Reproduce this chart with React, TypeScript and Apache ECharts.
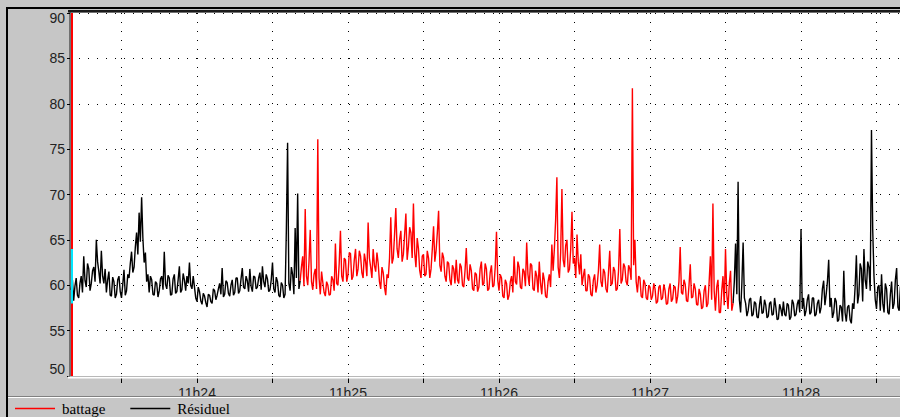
import React, { useEffect, useRef } from 'react';
import * as echarts from 'echarts';

// time in seconds since 11h00, one value every half second
const sampleStep = 0.5;

const residuelStart1 = 1390;
const residuel1 = [
  59.5, 60.6, 58.3, 59.9, 60.8, 58.9, 58.6, 60.2, 61.0, 59.2,
  63.2, 60.5, 59.8, 62.4, 61.8, 59.4, 60.2, 61.6, 62.0, 60.4,
  65.0, 62.6, 61.5, 60.2, 63.8, 61.0, 60.2, 61.8, 59.2, 60.6,
  61.5, 58.9, 58.8, 60.9, 60.4, 58.6, 59.0, 60.6, 61.0, 59.3,
  58.6, 60.1, 61.7, 58.9, 59.4, 61.2, 60.8, 62.4, 63.7, 61.4,
  62.0, 64.2, 65.8, 63.4, 68.0, 64.8, 69.7, 65.2, 62.5, 63.6,
  60.4, 61.2, 59.2, 61.0, 60.6, 59.0, 58.9, 60.4, 60.2, 58.7,
  59.4, 60.7, 61.0, 59.5, 63.7, 60.1, 59.6, 61.1, 60.8, 58.9,
  59.0, 60.7, 61.2, 59.1, 59.3, 60.6, 62.1, 59.2, 59.5, 61.3,
  60.6, 59.4, 61.0, 60.2, 62.5, 60.0, 59.6, 61.0, 59.8, 58.6,
  58.2, 59.8, 59.3, 58.3, 57.9, 59.1, 58.8, 58.1, 57.6, 59.0,
  58.9, 58.2, 58.0, 59.6, 59.4, 58.4, 58.9, 59.6, 60.2, 59.0,
  61.9, 58.7, 59.0, 60.5, 60.3, 59.1, 58.8, 60.0, 60.6, 58.9,
  59.2, 60.8, 60.8, 59.1, 59.4, 60.7, 61.9, 59.8, 59.6, 61.0,
  60.5, 59.3, 61.8, 59.9, 59.3, 61.0, 60.9, 59.6, 59.8, 60.8,
  61.4, 59.5, 62.1, 60.4, 59.8, 61.2, 60.7, 59.3, 59.5, 60.6,
  62.5, 59.6, 59.2, 60.9, 60.4, 58.9, 58.7, 60.3, 60.0, 58.6,
  59.0, 66.0, 75.7, 60.2, 59.4, 62.0, 61.2, 59.0, 66.3, 60.8,
  70.1, 59.6, 60.5,
];

const battageStart = 1481;
const battage = [
  60.5, 62.0, 63.2, 59.9, 68.4, 61.0, 60.0, 62.6, 66.1, 60.4,
  59.5, 61.2, 61.8, 59.6, 76.1, 60.8, 59.0, 61.5, 60.3, 59.2,
  58.8, 60.4, 60.0, 58.9, 59.0, 61.0, 60.6, 59.4, 64.6, 60.2,
  60.0, 62.4, 66.0, 61.0, 60.4, 63.0, 62.8, 60.4, 61.2, 63.6,
  63.5, 60.6, 61.0, 62.8, 64.0, 61.0, 61.8, 63.8, 63.2, 61.4,
  60.8, 63.5, 62.6, 61.0, 66.9, 63.0, 62.0, 60.8, 64.0, 62.2,
  61.5, 63.6, 62.4, 60.4, 59.6, 62.0, 61.4, 59.8, 58.9, 61.2,
  60.8, 63.0, 67.5, 62.4, 63.0, 65.6, 68.5, 64.0, 63.0, 65.0,
  66.0, 62.6, 63.4, 65.6, 67.9, 62.8, 64.2, 66.4, 65.8, 63.0,
  69.0, 63.6, 62.0, 65.2, 64.0, 61.6, 60.8, 63.2, 63.4, 61.0,
  61.2, 63.8, 63.0, 60.8, 61.8, 64.0, 66.5, 62.6, 63.8, 65.8,
  68.2, 62.2, 61.5, 63.6, 63.0, 61.0, 60.4, 62.6, 62.4, 60.6,
  60.0, 62.2, 61.8, 60.2, 62.8, 60.6, 60.2, 62.4, 62.0, 60.0,
  59.8, 61.6, 64.1, 60.8, 60.5, 62.3, 61.6, 59.6, 59.4, 61.4,
  61.2, 59.3, 59.8, 61.8, 62.6, 60.0, 60.2, 62.4, 61.8, 59.4,
  59.6, 61.4, 62.2, 59.8, 60.0, 62.0, 65.9, 60.6, 59.4, 61.2,
  60.8, 58.8, 58.6, 60.6, 60.2, 58.4, 58.9, 60.4, 61.0, 59.2,
  63.2, 60.4, 60.1, 62.6, 62.0, 59.8, 59.6, 61.8, 61.5, 59.9,
  64.7, 61.2, 60.0, 62.4, 62.2, 59.6, 59.4, 61.6, 61.0, 59.2,
  62.6, 60.2, 59.0, 61.4, 60.6, 58.8, 58.6, 60.4, 61.2, 59.8,
  64.5, 61.6, 64.0, 67.2, 71.9, 62.0, 60.8, 63.6, 70.6, 62.8,
  62.0, 64.4, 65.0, 61.4, 61.8, 64.0, 68.1, 62.4, 63.0, 60.8,
  65.6, 62.6, 61.2, 63.4, 60.0, 61.0, 61.8, 59.4, 59.4, 61.2,
  60.9, 59.0, 58.8, 60.6, 61.2, 59.2, 60.0, 61.6, 64.5, 60.4,
  59.8, 61.8, 61.4, 59.6, 59.2, 61.4, 63.8, 60.0, 60.2, 62.0,
  61.6, 59.4, 59.6, 61.6, 66.2, 60.2, 60.6, 62.4, 62.0, 60.4,
  60.0, 62.2, 61.8, 60.6, 81.7, 62.2, 65.0, 60.4, 59.2, 61.0,
  60.8, 58.8, 58.6, 60.6, 60.2, 58.6, 58.4, 60.0, 59.8, 58.4,
  58.8, 60.2, 59.6, 58.0, 58.2, 59.8, 60.0, 58.4, 58.6, 60.1,
  59.4, 57.9, 58.0, 59.6, 60.2, 58.2, 58.5, 59.9, 59.8, 58.0,
  58.8, 60.4, 64.2, 59.2, 59.0, 60.6, 60.1, 58.3, 58.2, 60.0,
  62.3, 58.6, 58.7, 60.2, 59.6, 57.9, 57.8, 59.6, 59.0, 57.4,
  57.6, 59.4, 60.0, 57.6, 58.0, 60.4, 63.2, 58.4, 69.0, 59.4,
  57.2, 59.8, 60.6, 57.0, 57.0, 59.4, 61.0, 57.8, 64.0, 59.0,
  57.4, 60.2, 61.6, 57.2, 58.0,
];

const residuelStart2 = 1653;
const residuel2 = [
  58.0, 60.4, 64.6, 59.0, 71.4, 58.4, 57.0, 60.2, 64.7, 58.6,
  58.0, 56.6, 57.2, 58.4, 58.6, 56.6, 56.8, 58.2, 58.0, 56.5,
  56.4, 57.8, 58.8, 56.9, 57.0, 58.4, 57.8, 56.4, 56.6, 58.0,
  58.2, 56.7, 56.8, 58.6, 57.6, 56.2, 56.3, 57.9, 57.4, 56.6,
  58.2, 56.8, 56.6, 58.0, 57.8, 56.2, 56.5, 58.4, 58.0, 56.6,
  56.8, 57.9, 58.4, 57.0, 66.2, 57.4, 58.6, 56.6, 57.2, 58.4,
  59.0, 56.8, 57.0, 58.6, 58.6, 56.6, 56.8, 58.0, 58.4, 56.9,
  57.6, 59.6, 60.5, 57.8, 59.0, 60.4, 62.8, 57.6, 58.6, 56.4,
  57.0, 58.6, 58.2, 56.0, 56.2, 57.8, 57.6, 56.0, 61.6, 57.0,
  56.0, 57.6, 57.8, 56.2, 55.8, 58.0, 57.4, 59.8, 63.3, 58.0,
  59.0, 62.4, 61.8, 58.2, 64.0, 60.6, 59.6, 62.6, 62.0, 59.4,
  77.1, 66.0, 61.0, 58.4, 57.4, 59.8, 60.0, 57.2, 61.2, 58.0,
  57.0, 60.2, 59.6, 57.0, 56.8, 59.0, 60.4, 57.4, 58.0, 60.6,
  61.9, 57.6, 57.2, 59.8, 60.2, 57.0, 58.0,
];

const yMin = 50;
const yMax = 90;
const yStep = 5;
const xMin = 1389.54;
const xMax = 1727.28;
const xTickSeconds = [1410, 1440, 1470, 1500, 1530, 1560, 1590, 1620, 1650, 1680, 1710];
const xLabelSeconds = [1440, 1500, 1560, 1620, 1680];
const xLabels = ['11h24', '11h25', '11h26', '11h27', '11h28'];
const cursorTime = 1390.3;
const cursorRange = [58, 64];

function toPairs(start: number, vals: number[]) {
  return vals.map((v, i) => [start + i * sampleStep, v]);
}

export default function App() {
  const ref = useRef<HTMLDivElement>(null);
  useEffect(() => {
    if (!ref.current) return;
    const chart = echarts.init(ref.current, undefined, { renderer: 'svg' });
    const dotted = { type: [1, 8], color: '#000', width: 1 };
    chart.setOption({
      animation: false,
      backgroundColor: '#c6c6c6',
      grid: {
        left: 70, top: 13, right: 0, bottom: 41,
        show: true, backgroundColor: '#ffffff', borderWidth: 0,
      },
      xAxis: {
        type: 'value', min: xMin, max: xMax,
        axisLine: { show: true, lineStyle: { color: '#707070', width: 1 } },
        axisTick: { show: true, customValues: xTickSeconds, length: 7, lineStyle: { color: '#000' } },
        axisLabel: {
          customValues: xLabelSeconds,
          formatter: (v: number) => {
            const i = xLabelSeconds.indexOf(Math.round(v));
            return i >= 0 ? xLabels[i] : '';
          },
          color: '#222', fontFamily: 'Liberation Sans', fontSize: 14, margin: 10,
        },
        splitLine: { show: true, lineStyle: dotted },
      },
      yAxis: {
        type: 'value', min: yMin, max: yMax, interval: yStep,
        axisLine: { show: true, lineStyle: { color: '#707070', width: 2 } },
        axisTick: { show: true, length: 3, lineStyle: { color: '#000' } },
        axisLabel: {
          color: '#222', fontFamily: 'Liberation Sans', fontSize: 14, margin: 5,
          formatter: (v: number) => (v === yMax ? '{top|' + v + '}' : v === yMin ? '{bot|' + v + '}' : String(v)),
          rich: {
            top: { padding: [9, 0, 0, 0], fontFamily: 'Liberation Sans', fontSize: 14, color: '#222' },
            bot: { padding: [0, 0, 14, 0], fontFamily: 'Liberation Sans', fontSize: 14, color: '#222' },
          },
        },
        splitLine: { show: true, lineStyle: dotted },
      },
      legend: {
        left: 15, top: 401, padding: 0, itemWidth: 40, itemHeight: 1.5, icon: 'rect', itemGap: 25,
        data: ['battage', 'Résiduel'],
        textStyle: { fontFamily: 'Liberation Serif', fontSize: 15, lineHeight: 15, color: '#000', padding: [0, 0, 0, 2] },
      },
      series: [
        {
          type: 'line', name: 'Résiduel', data: toPairs(residuelStart1, residuel1),
          symbol: 'none', lineStyle: { color: '#000', width: 1.4 }, itemStyle: { color: '#000' },
        },
        {
          type: 'line', name: 'Résiduel', data: toPairs(residuelStart2, residuel2),
          symbol: 'none', lineStyle: { color: '#000', width: 1.4 }, itemStyle: { color: '#000' },
        },
        {
          type: 'line', name: 'battage', data: toPairs(battageStart, battage),
          symbol: 'none', lineStyle: { color: '#ff0000', width: 1.4 }, itemStyle: { color: '#ff0000' },
          markLine: {
            silent: true, symbol: ['none', 'none'], label: { show: false }, animation: false,
            data: [
              { xAxis: cursorTime, lineStyle: { color: '#ff0000', width: 2, type: 'solid' } },
              [
                { coord: [cursorTime, cursorRange[0]], lineStyle: { color: '#00e8ff', width: 2, type: 'solid' } },
                { coord: [cursorTime, cursorRange[1]], lineStyle: { color: '#00e8ff', width: 2, type: 'solid' } },
              ],
            ],
          },
        },
      ],
      graphic: [
        { type: 'rect', z: 100, shape: { x: 7, y: 8, width: 1000, height: 1000 }, style: { fill: 'none', stroke: '#000', lineWidth: 2 } },
        { type: 'rect', z: 100, shape: { x: 68, y: 10, width: 900, height: 2.5 }, style: { fill: '#1a1a1a' } },
        { type: 'line', z: 100, shape: { x1: 68, y1: 377.5, x2: 930, y2: 377.5 }, style: { stroke: '#ffffff', lineWidth: 2 } },
        { type: 'line', z: 100, shape: { x1: 8, y1: 396.5, x2: 930, y2: 396.5 }, style: { stroke: '#808080', lineWidth: 1 } },
        { type: 'line', z: 100, shape: { x1: 8, y1: 397.5, x2: 930, y2: 397.5 }, style: { stroke: '#ffffff', lineWidth: 1 } },
      ],
    });
    return () => chart.dispose();
  }, []);
  return (
    <div style={{ position: 'fixed', left: 0, top: 0, width: 900, height: 417, overflow: 'hidden' }}>
      <div ref={ref} style={{ width: 920, height: 417 }} />
    </div>
  );
}
